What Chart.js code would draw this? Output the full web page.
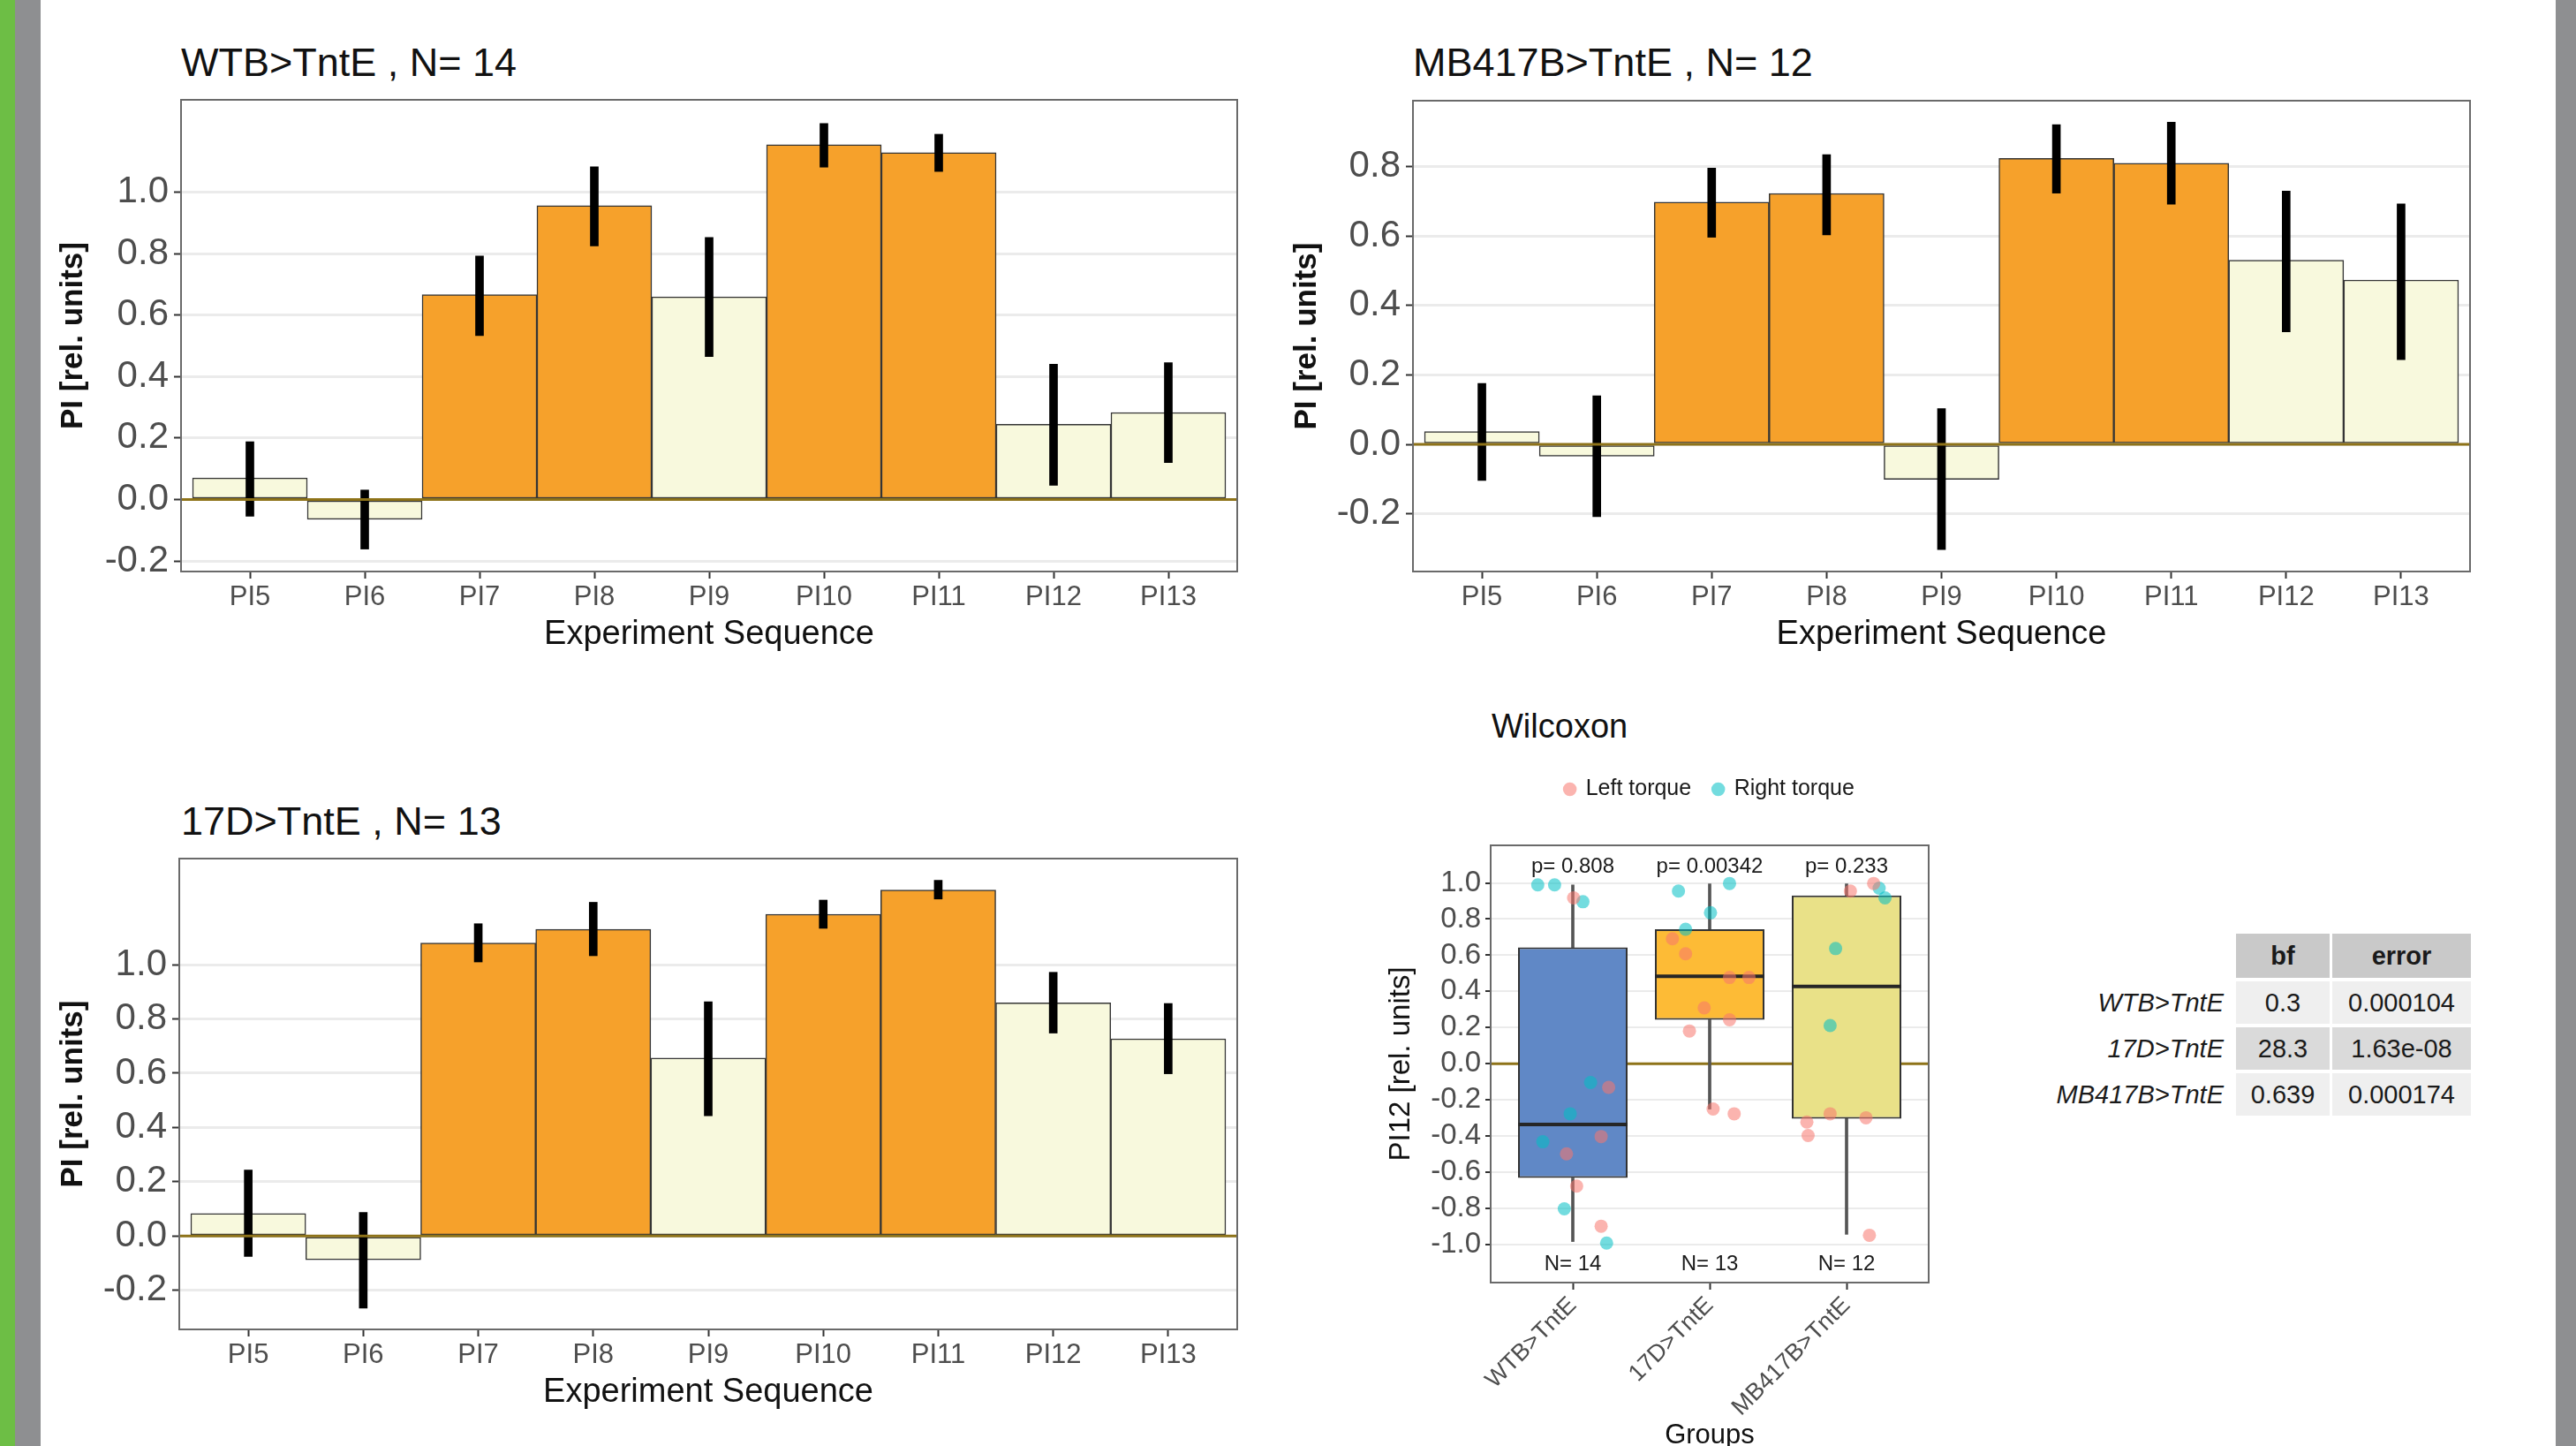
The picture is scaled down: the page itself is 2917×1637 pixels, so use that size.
<!DOCTYPE html>
<html>
<head>
<meta charset="utf-8">
<title>PI panels</title>
<script src="https://cdn.jsdelivr.net/npm/chart.js@4.4.1/dist/chart.umd.min.js"></script>
<style>
  html, body { margin: 0; padding: 0; background: #fff; }
  #page { position: relative; width: 2917px; height: 1637px; overflow: hidden; background: #fff;
          font-family: "Liberation Sans", Arial, sans-serif; }
  .strip { position: absolute; top: 0; height: 1637px; }
  canvas { position: absolute; }
  .ptitle { position: absolute; font-size: 45px; line-height: 52px; color: #111; white-space: nowrap; }
  #wilcoxTitle { font-size: 38px; line-height: 44px; }
  #bfTable { position: absolute; left: 2247px; top: 1053px; border-collapse: separate;
             border-spacing: 3px 4px; font-size: 29px; color: #1a1a1a; }
  #bfTable th, #bfTable td { padding: 0; text-align: center; height: 48px; }
  #bfTable th { background: #c9c9c9; font-weight: bold; height: 50px; }
  #bfTable td.rowname { text-align: right; font-style: italic; background: none; padding-right: 11px; }
  #bfTable tr.odd td.val { background: #efefef; }
  #bfTable tr.even td.val { background: #dadada; }
</style>
</head>
<body>
<div id="page">
  <div class="strip" style="left:0;width:17px;background:#6dbe45"></div>
  <div class="strip" style="left:17px;width:29px;background:#8e8f91"></div>
  <div class="strip" style="left:2894px;width:23px;background:#8e8f91"></div>

  <div class="ptitle" style="left:205px;top:45px">WTB&gt;TntE , N= 14</div>
  <div class="ptitle" style="left:1600px;top:45px">MB417B&gt;TntE , N= 12</div>
  <div class="ptitle" style="left:205px;top:904px">17D&gt;TntE , N= 13</div>
  <div class="ptitle" id="wilcoxTitle" style="left:1689px;top:800px">Wilcoxon</div>

  <canvas id="wtbChart" width="1356" height="645" style="left:55px;top:100px"></canvas>
  <canvas id="mbChart" width="1355" height="645" style="left:1452px;top:100px"></canvas>
  <canvas id="d17Chart" width="1356" height="643" style="left:55px;top:960px"></canvas>
  <canvas id="boxChart" width="630" height="792" style="left:1564px;top:856px"></canvas>

  <table id="bfTable"></table>
</div>

<script>
// sequence of PI periods (training periods are orange)
const sequenceLabels = ['PI5', 'PI6', 'PI7', 'PI8', 'PI9', 'PI10', 'PI11', 'PI12', 'PI13'];
const sequenceRole = ['test', 'test', 'training', 'training', 'test', 'training', 'training', 'test', 'test'];

// WTB>TntE, N=14
const wtbMeans = [0.070, -0.064, 0.666, 0.956, 0.659, 1.154, 1.128, 0.245, 0.283];
const wtbLower = [-0.054, -0.161, 0.533, 0.825, 0.465, 1.081, 1.067, 0.046, 0.120];
const wtbUpper = [0.188, 0.031, 0.792, 1.082, 0.852, 1.223, 1.188, 0.440, 0.445];
const wtbTicks = [-0.2, 0.0, 0.2, 0.4, 0.6, 0.8, 1.0];

// MB417B>TntE, N=12
const mbMeans = [0.037, -0.034, 0.697, 0.722, -0.101, 0.823, 0.809, 0.530, 0.473];
const mbLower = [-0.104, -0.208, 0.596, 0.603, -0.303, 0.723, 0.691, 0.324, 0.244];
const mbUpper = [0.175, 0.140, 0.795, 0.834, 0.103, 0.920, 0.927, 0.729, 0.692];
const mbTicks = [-0.2, 0.0, 0.2, 0.4, 0.6, 0.8];

// 17D>TntE, N=13
const d17Means = [0.083, -0.087, 1.080, 1.130, 0.656, 1.186, 1.275, 0.859, 0.727];
const d17Lower = [-0.075, -0.266, 1.010, 1.033, 0.443, 1.134, 1.242, 0.748, 0.598];
const d17Upper = [0.243, 0.087, 1.151, 1.230, 0.863, 1.238, 1.311, 0.972, 0.857];
const d17Ticks = [-0.2, 0.0, 0.2, 0.4, 0.6, 0.8, 1.0];

// Wilcoxon box plot of PI12
const groupNames = ['WTB>TntE', '17D>TntE', 'MB417B>TntE'];
const boxLow = [-0.984, -0.251, -0.944];
const boxQ1 = [-0.632, 0.243, -0.304];
const boxMedian = [-0.336, 0.483, 0.427];
const boxQ3 = [0.643, 0.744, 0.931];
const boxHigh = [0.989, 0.995, 0.995];
const pValues = ['p= 0.808', 'p= 0.00342', 'p= 0.233'];
const groupN = ['N= 14', 'N= 13', 'N= 12'];
const boxTicks = [-1.0, -0.8, -0.6, -0.4, -0.2, 0.0, 0.2, 0.4, 0.6, 0.8, 1.0];

// individual flies: value and horizontal jitter
const leftTorque = [
  [0.917, -0.131, -0.403, -0.499, -0.677, -0.899],
  [0.691, 0.608, 0.477, 0.477, 0.309, 0.243, 0.181, -0.251, -0.277],
  [0.955, 0.997, -0.323, -0.397, -0.277, -0.299, -0.949]
];
const leftJitter = [
  [0.006, 0.262, 0.207, -0.046, 0.028, 0.207],
  [-0.272, -0.176, 0.145, 0.287, -0.040, 0.145, -0.148, 0.025, 0.179],
  [0.028, 0.198, -0.290, -0.281, -0.120, 0.142, 0.167]
];
const rightTorque = [
  [0.989, 0.989, 0.896, -0.104, -0.277, -0.432, -0.803, -0.992],
  [0.955, 0.997, 0.835, 0.744],
  [0.971, 0.917, 0.637, 0.211]
];
const rightJitter = [
  [-0.256, -0.133, 0.074, 0.130, -0.019, -0.219, -0.062, 0.247],
  [-0.228, 0.145, 0.006, -0.176],
  [0.238, 0.281, -0.080, -0.120]
];

// Bayes factor table
const bfRows = ['WTB>TntE', '17D>TntE', 'MB417B>TntE'];
const bfValues = ['0.3', '28.3', '0.639'];
const bfErrors = ['0.000104', '1.63e-08', '0.000174'];

const ORANGE = '#f6a12b';
const PALE = '#f8f9dd';
const ZERO_LINE = '#8e7319';
const FONT = '"Liberation Sans", Arial, sans-serif';

Chart.defaults.font.family = FONT;
Chart.defaults.color = '#4d4d4d';

function drawZero(chart) {
  const { ctx, chartArea: a, scales } = chart;
  const y0 = scales.y.getPixelForValue(0);
  ctx.save();
  ctx.strokeStyle = ZERO_LINE;
  ctx.lineWidth = 3;
  ctx.beginPath();
  ctx.moveTo(a.left, y0);
  ctx.lineTo(a.right, y0);
  ctx.stroke();
  ctx.restore();
}

// panel border + horizontal line at zero (under or over the marks)
const panelFrame = {
  id: 'panelFrame',
  beforeDatasetsDraw(chart, args, opts) {
    if (opts.zeroBelow) drawZero(chart);
  },
  afterDatasetsDraw(chart, args, opts) {
    if (!opts.zeroBelow) drawZero(chart);
    const { ctx, chartArea: a } = chart;
    ctx.save();
    ctx.strokeStyle = '#6a6a6a';
    ctx.lineWidth = 2;
    ctx.strokeRect(a.left, a.top, a.right - a.left, a.bottom - a.top);
    ctx.restore();
  }
};

// keep the panel exactly where the axis sizes say, without label overflow padding
function fixX(h) {
  return s => { s.height = h; s.paddingLeft = 0; s.paddingRight = 0; };
}
function fixY(w) {
  return s => { s.width = w; s.paddingTop = 0; s.paddingBottom = 0; };
}

function makeBarPanel(canvasId, means, lower, upper, yMin, yMax, yTicks, padTop, axisWidth) {
  const xs = sequenceLabels.map((_, i) => i + 1);
  return new Chart(document.getElementById(canvasId), {
    type: 'bar',
    data: {
      datasets: [
        {
          label: 'SEM',
          data: xs.map((x, i) => ({ x: x, y: [lower[i], upper[i]] })),
          backgroundColor: '#000',
          barThickness: 9,
          grouped: false,
          order: 0
        },
        {
          label: 'PI',
          data: xs.map((x, i) => ({ x: x, y: means[i] })),
          backgroundColor: sequenceRole.map(r => r === 'training' ? ORANGE : PALE),
          borderColor: '#353535',
          borderWidth: 1.5,
          borderSkipped: false,
          barPercentage: 1,
          categoryPercentage: 1,
          grouped: false,
          order: 1
        }
      ]
    },
    options: {
      responsive: false,
      animation: false,
      devicePixelRatio: 1,
      layout: { padding: { top: padTop, right: 10, left: 0, bottom: 0 } },
      plugins: { legend: { display: false }, tooltip: { enabled: false }, panelFrame: { zeroBelow: false } },
      scales: {
        x: {
          type: 'linear', min: 0.4, max: 9.6, offset: false,
          afterBuildTicks: s => { s.ticks = xs.map(v => ({ value: v })); },
          afterFit: fixX(98),
          ticks: { callback: v => sequenceLabels[v - 1], font: { size: 31 }, color: '#4d4d4d', padding: 3, autoSkip: false, maxRotation: 0 },
          grid: { drawOnChartArea: false, offset: false, tickLength: 8, tickColor: '#333', tickWidth: 2 },
          border: { display: false },
          title: { display: true, text: 'Experiment Sequence', font: { size: 38 }, color: '#111', padding: 4 }
        },
        y: {
          min: yMin, max: yMax,
          afterBuildTicks: s => { s.ticks = yTicks.map(v => ({ value: v })); },
          afterFit: fixY(axisWidth),
          ticks: { callback: v => v.toFixed(1), font: { size: 42 }, color: '#4d4d4d', padding: 6 },
          grid: { color: '#ebebeb', lineWidth: 3, tickLength: 8, tickColor: '#333', tickWidth: 2 },
          border: { display: false },
          title: { display: true, text: 'PI [rel. units]', font: { size: 35, weight: 'bold' }, color: '#111', padding: 7 }
        }
      }
    },
    plugins: [panelFrame]
  });
}

makeBarPanel('wtbChart', wtbMeans, wtbLower, wtbUpper, -0.234, 1.30, wtbTicks, 13, 150);
makeBarPanel('mbChart', mbMeans, mbLower, mbUpper, -0.366, 0.989, mbTicks, 14, 148);
makeBarPanel('d17Chart', d17Means, d17Lower, d17Upper, -0.344, 1.391, d17Ticks, 12, 148);

// p-values above and N below each box
const boxNotes = {
  id: 'boxNotes',
  afterDatasetsDraw(chart) {
    const { ctx, scales: { x, y } } = chart;
    ctx.save();
    ctx.font = '24px ' + FONT;
    ctx.fillStyle = '#1a1a1a';
    ctx.textAlign = 'center';
    ctx.textBaseline = 'middle';
    groupNames.forEach((g, i) => {
      ctx.fillText(pValues[i], x.getPixelForValue(i + 1), y.getPixelForValue(1.088));
      ctx.fillText(groupN[i], x.getPixelForValue(i + 1), y.getPixelForValue(-1.109));
    });
    ctx.restore();
  }
};

const groupX = groupNames.map((_, i) => i + 1);
const leftPoints = [];
const rightPoints = [];
leftTorque.forEach((vals, g) => vals.forEach((v, j) => leftPoints.push({ x: groupX[g] + leftJitter[g][j], y: v })));
rightTorque.forEach((vals, g) => vals.forEach((v, j) => rightPoints.push({ x: groupX[g] + rightJitter[g][j], y: v })));

const medianSegments = [];
groupX.forEach((gx, i) => {
  medianSegments.push({ x: gx - 0.4, y: boxMedian[i] }, { x: gx + 0.4, y: boxMedian[i] }, { x: gx + 0.5, y: null });
});
const whiskers = [];
groupX.forEach((gx, i) => {
  whiskers.push({ x: gx, y: [boxLow[i], boxQ1[i]] }, { x: gx, y: [boxQ3[i], boxHigh[i]] });
});

new Chart(document.getElementById('boxChart'), {
  type: 'bar',
  data: {
    datasets: [
      {
        type: 'scatter', label: 'Left torque', data: leftPoints,
        backgroundColor: 'rgba(248,118,109,0.55)', borderWidth: 0, pointRadius: 7.5, pointStyle: 'circle', order: 0
      },
      {
        type: 'scatter', label: 'Right torque', data: rightPoints,
        backgroundColor: 'rgba(0,191,196,0.55)', borderWidth: 0, pointRadius: 7.5, pointStyle: 'circle', order: 0
      },
      {
        type: 'line', label: 'median', data: medianSegments,
        borderColor: '#262626', borderWidth: 4, pointRadius: 0, spanGaps: false, order: 1
      },
      {
        label: 'box', data: groupX.map((gx, i) => ({ x: gx, y: [boxQ1[i], boxQ3[i]] })),
        backgroundColor: ['#6088c6', '#fdbb36', '#e9e188'], borderColor: '#333', borderWidth: 2,
        borderSkipped: false, barPercentage: 0.8, categoryPercentage: 1, grouped: false, order: 2
      },
      {
        label: 'whisker', data: whiskers, backgroundColor: '#555', barThickness: 3, grouped: false, order: 3
      }
    ]
  },
  options: {
    responsive: false,
    animation: false,
    devicePixelRatio: 1,
    layout: { padding: { top: 0, right: 10, left: 0, bottom: 0 } },
    plugins: {
      tooltip: { enabled: false },
      panelFrame: { zeroBelow: true },
      legend: {
        position: 'top', fullSize: false,
        labels: {
          usePointStyle: true, boxWidth: 11, boxHeight: 11, padding: 25,
          font: { size: 25 }, color: '#1a1a1a',
          filter: item => item.text === 'Left torque' || item.text === 'Right torque'
        }
      },
      // empty spacer between legend and panel
      subtitle: { display: true, text: '', weight: 500, padding: 0, font: { size: 41, lineHeight: 1 } }
    },
    scales: {
      x: {
        type: 'linear', min: 0.4, max: 3.6, offset: false,
        afterBuildTicks: s => { s.ticks = groupX.map(v => ({ value: v })); },
        afterFit: fixX(196),
        ticks: { callback: v => groupNames[v - 1], font: { size: 27 }, color: '#4d4d4d', minRotation: 45, maxRotation: 45, autoSkip: false, padding: 2 },
        grid: { drawOnChartArea: false, offset: false, tickLength: 8, tickColor: '#333', tickWidth: 2 },
        border: { display: false },
        title: { display: true, text: 'Groups', font: { size: 31 }, color: '#111', padding: 4 }
      },
      y: {
        min: -1.211, max: 1.208,
        afterBuildTicks: s => { s.ticks = boxTicks.map(v => ({ value: v })); },
        afterFit: fixY(124),
        ticks: { callback: v => v.toFixed(1), font: { size: 33 }, color: '#4d4d4d', padding: 5 },
        grid: { color: '#ebebeb', lineWidth: 2, tickLength: 6, tickColor: '#333', tickWidth: 2 },
        border: { display: false },
        title: { display: true, text: 'PI12 [rel. units]', font: { size: 33 }, color: '#111', padding: 3 }
      }
    }
  },
  plugins: [panelFrame, boxNotes]
});

// Bayes factor table
const table = document.getElementById('bfTable');
let html = '<tr><th style="background:none;width:279px"></th><th style="width:106px">bf</th><th style="width:157px">error</th></tr>';
bfRows.forEach((name, i) => {
  const cls = i % 2 === 0 ? 'odd' : 'even';
  html += '<tr class="' + cls + '"><td class="rowname">' + name.replace('>', '&gt;') + '</td>' +
          '<td class="val">' + bfValues[i] + '</td><td class="val">' + bfErrors[i] + '</td></tr>';
});
table.innerHTML = html;
</script>
</body>
</html>
